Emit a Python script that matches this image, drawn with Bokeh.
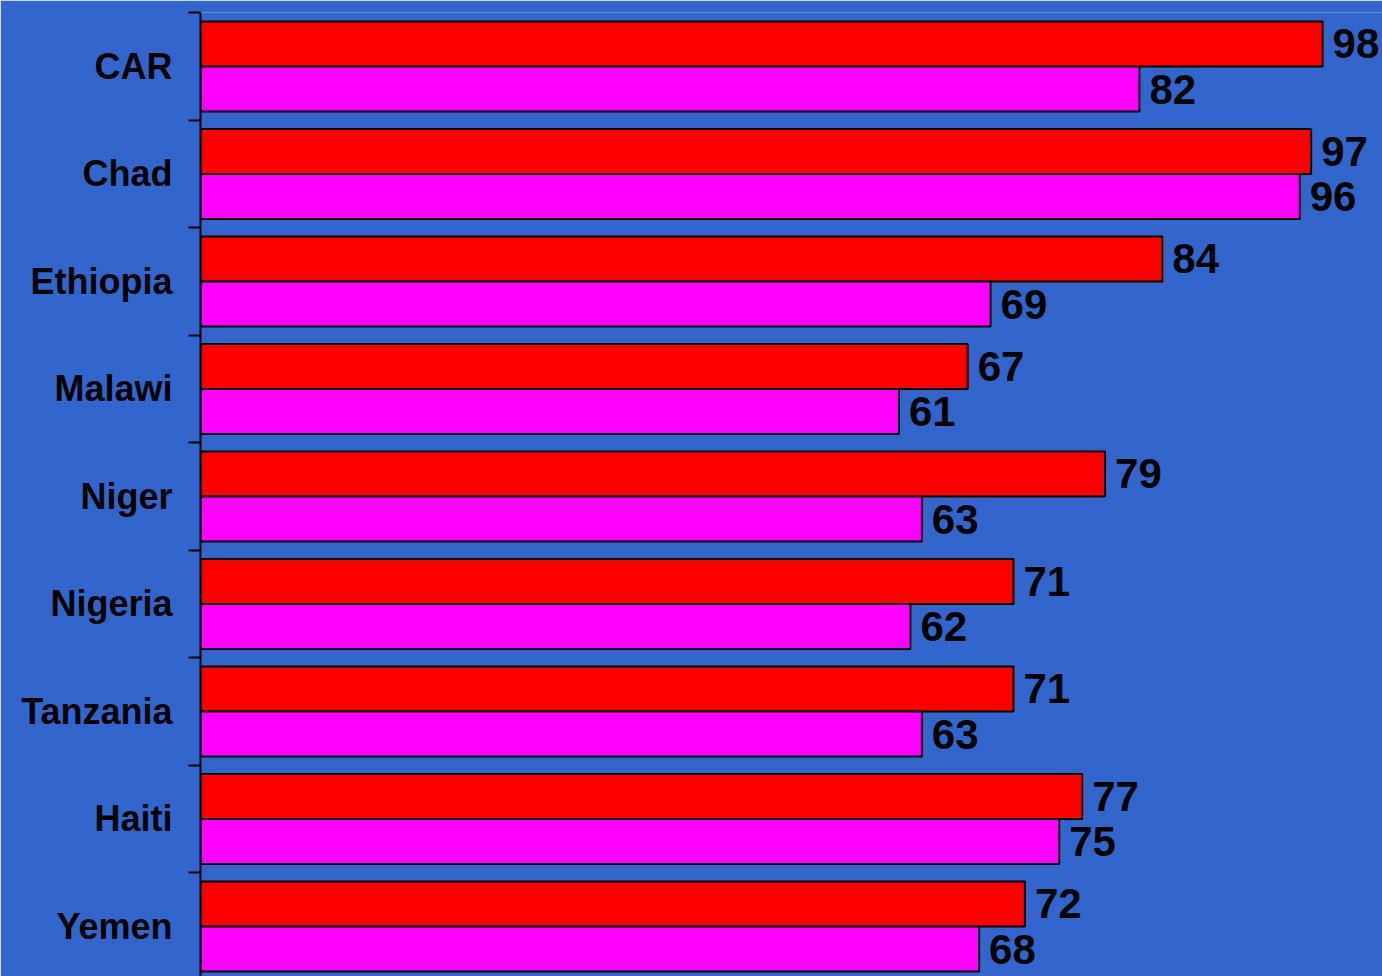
from bokeh.plotting import figure
from bokeh.models import Range1d, FixedTicker, ColumnDataSource, LabelSet
from bokeh.core.properties import value
from bokeh.embed import file_html
from bokeh.resources import INLINE

categories = ["CAR", "Chad", "Ethiopia", "Malawi", "Niger", "Nigeria", "Tanzania", "Haiti", "Yemen"]
red_values = [98, 97, 84, 67, 79, 71, 71, 77, 72]
magenta_values = [82, 96, 69, 61, 63, 62, 63, 75, 68]

BG = "#3366CC"
n = len(categories)
idx = list(range(n))
red_y = [i + 0.293 for i in idx]
mag_y = [i + 0.712 for i in idx]

W, H = 1382, 976
LEFT, TOP = 200, 12
PX_PER_UNIT = 11.45
BAND = 107.5

p = figure(width=W, height=H, output_backend="svg", toolbar_location=None,
           x_range=Range1d(0, (W - LEFT) / PX_PER_UNIT),
           y_range=Range1d((H - TOP) / BAND, 0),
           x_axis_location=None, min_border_left=LEFT, min_border_right=0,
           min_border_top=TOP, min_border_bottom=0)
p.background_fill_color = BG
p.border_fill_color = BG
p.outline_line_color = None
p.xgrid.visible = False
p.ygrid.visible = False

src_r = ColumnDataSource(dict(y=red_y, v=red_values, t=[str(v) for v in red_values]))
src_m = ColumnDataSource(dict(y=mag_y, v=magenta_values, t=[str(v) for v in magenta_values]))

p.hbar(y="y", left=0, right="v", height=0.42, source=src_r,
       fill_color="#FF0000", line_color="black", line_width=2)
p.hbar(y="y", left=0, right="v", height=0.42, source=src_m,
       fill_color="#FF00FF", line_color="black", line_width=2)

for src in (src_r, src_m):
    lab = LabelSet(x="v", y="y", text="t", source=src, x_offset=10,
                   text_baseline="middle", text_align="left",
                   text_font=value("Liberation Sans"), text_font_style="bold",
                   text_font_size="42px", text_color="black")
    p.add_layout(lab)

ax = p.yaxis[0]
ax.ticker = FixedTicker(ticks=[i + 0.5 for i in idx], minor_ticks=list(range(n + 1)))
ax.major_label_overrides = {i + 0.5: c for i, c in zip(idx, categories)}
ax.major_tick_out = 0
ax.major_tick_in = 0
ax.minor_tick_out = 12
ax.minor_tick_in = 0
ax.minor_tick_line_color = "black"
ax.minor_tick_line_width = 2
ax.axis_line_color = "black"
ax.axis_line_width = 2
ax.major_label_standoff = 16
ax.major_label_text_font = "Liberation Sans"
ax.major_label_text_font_style = "bold"
ax.major_label_text_font_size = "36px"
ax.major_label_text_color = "black"

open("out.html", "w").write(file_html(p, INLINE))
